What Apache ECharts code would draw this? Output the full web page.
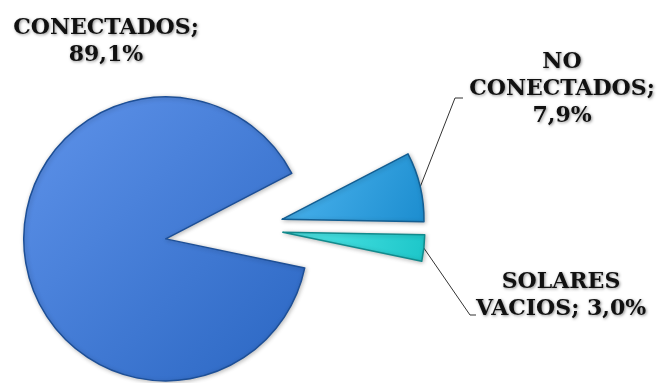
<!DOCTYPE html>
<html>
<head>
<meta charset="utf-8">
<script src="https://cdn.jsdelivr.net/npm/echarts@6/dist/echarts.min.js"></script>
<style>
  html, body { margin: 0; padding: 0; background: #fff; }
  #main { width: 659px; height: 383px; }
</style>
</head>
<body>
<div id="main"></div>
<script>
var names = ['CONECTADOS', 'NO\nCONECTADOS', 'SOLARES\nVACIOS'];
var values = [89.1, 7.9, 3.0];
var labelTexts = ['CONECTADOS;\n89,1%', 'NO\nCONECTADOS;\n7,9%', 'SOLARES\nVACIOS; 3,0%'];

var fills = [
  ['#5f93ea', '#2a66c2'],
  ['#4fb6f0', '#1c8dcf'],
  ['#55e8e8', '#1cc6c9']
];
var borders = ['#1d4f96', '#135e92', '#128a8c'];

// layout
var baseCenter = [245, 228];
var radius = 142;
var startAngle = -11.8;
var explode = [80, 38, 38];
var labelPos = [[106, 42], [562, 89], [561, 296]];
var lineBend = [null, [[455, 98], [463, 98]], [[470, 315], [476, 315]]];

var total = values.reduce(function (a, b) { return a + b; }, 0);

function midAngle(i) {
  var acc = 0;
  for (var k = 0; k < i; k++) acc += values[k];
  var a = startAngle - (acc + values[i] / 2) / total * 360;
  return a * Math.PI / 180;
}

var series = values.map(function (v, i) {
  var m = midAngle(i);
  var cx = baseCenter[0] + Math.cos(m) * explode[i];
  var cy = baseCenter[1] - Math.sin(m) * explode[i];
  return {
    type: 'pie',
    silent: true,
    animation: false,
    center: [cx, cy],
    radius: [0, radius],
    startAngle: startAngle,
    clockwise: true,
    avoidLabelOverlap: false,
    labelLine: { show: i > 0, lineStyle: { color: '#333', width: 1 } },
    labelLayout: function (params) {
      if (params.dataIndex !== i) return {};
      var r = { x: labelPos[i][0], y: labelPos[i][1], align: 'center', verticalAlign: 'middle' };
      if (lineBend[i] && params.labelLinePoints) {
        r.labelLinePoints = [params.labelLinePoints[0], lineBend[i][0], lineBend[i][1]];
      }
      return r;
    },
    data: values.map(function (val, j) {
      var own = j === i;
      return {
        name: names[j],
        value: val,
        itemStyle: own ? {
          color: { type: 'linear', x: 0, y: 0, x2: 1, y2: 1,
            colorStops: [{ offset: 0, color: fills[j][0] }, { offset: 1, color: fills[j][1] }] },
          borderColor: borders[j],
          borderWidth: 1.5,
          shadowColor: 'rgba(0,0,0,0.25)',
          shadowBlur: 4,
          shadowOffsetX: 1,
          shadowOffsetY: 1
        } : { color: 'rgba(0,0,0,0)', borderWidth: 0 },
        label: {
          show: own,
          position: 'outside',
          formatter: labelTexts[j],
          fontFamily: 'DejaVu Serif',
          fontWeight: 'bold',
          fontSize: 22,
          lineHeight: 27,
          align: 'center',
          color: '#111',
          textShadowColor: 'rgba(0,0,0,0.45)',
          textShadowBlur: 3,
          textShadowOffsetX: 1,
          textShadowOffsetY: 1
        },
        labelLine: { show: own && j > 0 }
      };
    })
  };
});

var chart = echarts.init(document.getElementById('main'));
chart.setOption({
  backgroundColor: '#fff',
  series: series
});
</script>
</body>
</html>
